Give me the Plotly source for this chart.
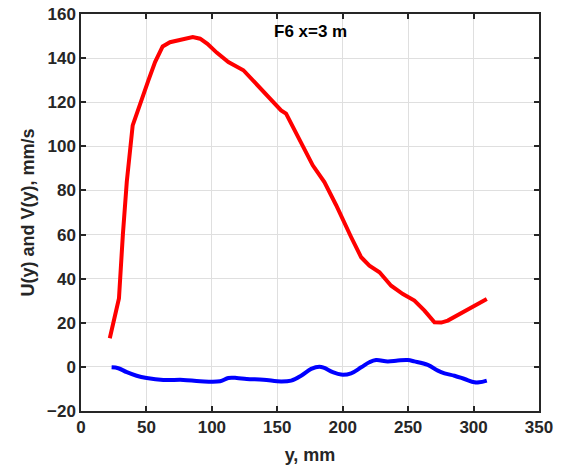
import plotly.graph_objects as go

u_y = [22, 29, 32, 35, 39.5, 45, 51.5, 56.6, 62.4, 68, 77, 85.4, 91, 96.6, 103.7, 112.6, 124.1,
       139.4, 152.9, 156.7, 163.1, 172, 177.1, 186, 195, 206.4, 214.1, 220.4, 228.1, 237, 246,
       254.8, 262.5, 270.1, 275.3, 280.3, 295.6, 310.1]
u_val = [13, 31, 60, 84, 109.5, 119.4, 129.9, 138.2, 145.3, 147.2, 148.5, 149.6, 148.8, 146.5, 142.5,
         138.2, 134.5, 124.6, 116.3, 114.8, 107.3, 96.7, 91.4, 83.8, 73.3, 58.9, 49.7, 45.9, 42.9,
         36.8, 33.0, 30.1, 25.5, 20.2, 20.1, 21.0, 26.2, 30.8]

v_y = [23.4, 28.5, 35, 42.5, 50.2, 62.9, 78.2, 91, 106.3, 112.6, 119, 126.6, 139.4, 152.9, 160.6,
       168.2, 175.9, 182.2, 186, 192.4, 198.8, 206.4, 214.1, 220.4, 225.5, 234.4, 242.1, 249.7,
       254.8, 265, 272.7, 277.8, 285.4, 293.1, 300.7, 304.3, 310.1]
v_val = [-0.2, -0.6, -2.4, -4.0, -5.0, -5.9, -5.9, -6.5, -6.5, -5.0, -5.0, -5.5, -5.8, -6.6, -6.2,
         -4.0, -0.9, 0.1, -0.5, -2.4, -3.5, -2.9, -0.2, 2.1, 3.1, 2.5, 2.9, 3.1, 2.5, 0.9, -1.7,
         -2.9, -4.0, -5.5, -7.0, -7.0, -6.2]

x_ticks = [0, 50, 100, 150, 200, 250, 300, 350]
y_ticks = [-20, 0, 20, 40, 60, 80, 100, 120, 140, 160]

fig = go.Figure()
fig.add_trace(go.Scatter(x=u_y, y=u_val, mode="lines",
                         line=dict(color="#ff0000", width=4), showlegend=False))
fig.add_trace(go.Scatter(x=v_y, y=v_val, mode="lines",
                         line=dict(color="#0000ff", width=4, shape="spline"), showlegend=False))

fam = "Liberation Sans, Arial, sans-serif"
axcommon = dict(showline=True, linecolor="#262626", linewidth=1.5, mirror="ticks",
                ticks="inside", ticklen=5, tickcolor="#262626", tickwidth=1.5,
                showgrid=True, gridcolor="#dfdfdf", gridwidth=1.3, zeroline=False,
                automargin=False,
                tickfont=dict(family=fam, size=17, color="#262626", weight="bold"))

fig.update_layout(
    width=562, height=474,
    margin=dict(l=81, r=23, t=14, b=63),
    paper_bgcolor="white", plot_bgcolor="white",
    font=dict(family=fam, size=17, color="#262626"),
    xaxis=dict(range=[0, 350], tickvals=x_ticks,
               title=dict(text="<b>y, mm</b>", standoff=12,
                          font=dict(size=18, color="#262626")),
               **axcommon),
    yaxis=dict(range=[-20, 160], tickvals=y_ticks,
               title=dict(text="<b>U(y) and V(y), mm/s</b>", standoff=8,
                          font=dict(size=18, color="#262626")),
               **axcommon),
    annotations=[dict(text="<b>F6 x=3 m</b>", x=0.5, y=0.985, xref="paper", yref="paper",
                      xanchor="center", yanchor="top", showarrow=False,
                      font=dict(family=fam, size=17, color="black"))],
)

fig.write_html("out.html", config={"displayModeBar": False},
               post_script="document.body.style.margin='0';")
